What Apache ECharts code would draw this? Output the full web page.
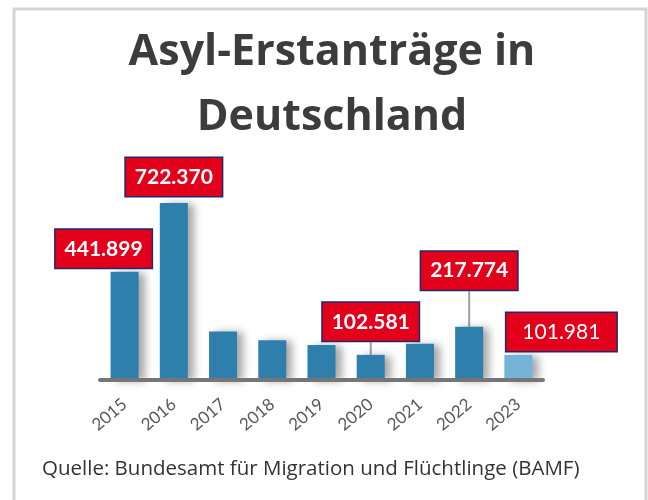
<!DOCTYPE html>
<html>
<head>
<meta charset="utf-8">
<script src="https://cdn.jsdelivr.net/npm/echarts@6/dist/echarts.min.js"></script>
<style>
  html, body { margin: 0; padding: 0; background: #fff; }
  #chart { width: 648px; height: 500px; }
</style>
</head>
<body>
<div id="chart"></div>
<script>
// Asyl-Erstanträge pro Jahr (2023 = Teilzeitraum)
const years = ['2015', '2016', '2017', '2018', '2019', '2020', '2021', '2022', '2023']
const applications = [441899, 722370, 198317, 161931, 142509, 102581, 148233, 217774, 101981]
// Jahre mit roter Wertbox
const labelledYears = ['2015', '2016', '2020', '2022', '2023']

const titleText = 'Asyl-Erstanträge in\nDeutschland'
const sourceText = 'Quelle: Bundesamt für Migration und Flüchtlinge (BAMF)'

// Tausenderpunkt wie im Original
function formatDe(v) {
  return String(v).replace(/\B(?=(\d{3})+(?!\d))/g, '.')
}

// Verschiebung der Boxen je Jahr (mit Verbindungslinie, wenn line gesetzt)
const labelPlacement = {
  '2015': { dx: -21, dy: 0 },
  '2016': { dx: 0, dy: -3 },
  '2020': { dx: 0, dy: -10, line: true },
  '2022': { dx: 0, dy: -33, line: true },
  '2023': { dx: 43, dy: 0, fontWeight: 'normal', padding: [7, 16] }
}

const chart = echarts.init(document.getElementById('chart'))

const seriesData = applications.map((v, i) => {
  const year = years[i]
  const item = {
    value: v,
    itemStyle: { color: year === '2023' ? '#74b4d9' : '#2e7fac' }
  }
  if (labelledYears.includes(year)) {
    const p = labelPlacement[year]
    item.label = {
      show: true,
      position: 'top',
      distance: 4,
      formatter: (params) => formatDe(params.value),
      color: '#fff',
      fontFamily: 'Lato',
      fontWeight: p.fontWeight || 'bold',
      fontSize: 21,
      lineHeight: 24,
      backgroundColor: '#e2001a',
      borderColor: '#1d2b6c',
      borderWidth: 1.5,
      padding: p.padding || [7, 9]
    }
    if (p.line) {
      item.labelLine = { show: true, lineStyle: { color: '#a0a0a0', width: 2 } }
    }
  }
  return item
})

const option = {
  animation: false,
  backgroundColor: '#fff',
  title: [
    {
      text: titleText,
      left: 332,
      top: 20,
      padding: 0,
      textAlign: 'center',
      textStyle: {
        fontFamily: 'Open Sans',
        fontWeight: 'bold',
        fontSize: 43,
        lineHeight: 65,
        color: '#3c3c3c'
      }
    },
    {
      text: sourceText,
      left: 42,
      top: 459,
      padding: 0,
      textStyle: {
        fontFamily: 'Open Sans',
        fontWeight: 'normal',
        fontSize: 20.5,
        color: '#333'
      }
    }
  ],
  graphic: [
    {
      type: 'rect',
      shape: { x: 14, y: 9, width: 632, height: 600 },
      style: { fill: 'none', stroke: '#d4d4d4', lineWidth: 3 },
      silent: true
    }
  ],
  grid: {
    left: 100,
    right: 105,
    top: 184,
    bottom: 120
  },
  xAxis: {
    type: 'category',
    data: years,
    z: 5,
    axisLine: { show: true, lineStyle: { color: '#767676', width: 4 } },
    axisTick: { show: false },
    axisLabel: {
      rotate: 40,
      margin: 22,
      fontFamily: 'Lato',
      fontSize: 17,
      color: '#595959'
    }
  },
  yAxis: {
    type: 'value',
    min: 0,
    max: 800000,
    show: false,
    splitLine: { show: false }
  },
  series: [
    {
      type: 'bar',
      data: seriesData,
      barWidth: 28,
      itemStyle: {
        shadowColor: 'rgba(0, 0, 0, 0.35)',
        shadowBlur: 8,
        shadowOffsetX: 6,
        shadowOffsetY: 1
      },
      labelLayout: (params) => {
        const p = labelPlacement[years[params.dataIndex]]
        return p ? { dx: p.dx, dy: p.dy } : {}
      }
    }
  ]
}

chart.setOption(option)
</script>
</body>
</html>
